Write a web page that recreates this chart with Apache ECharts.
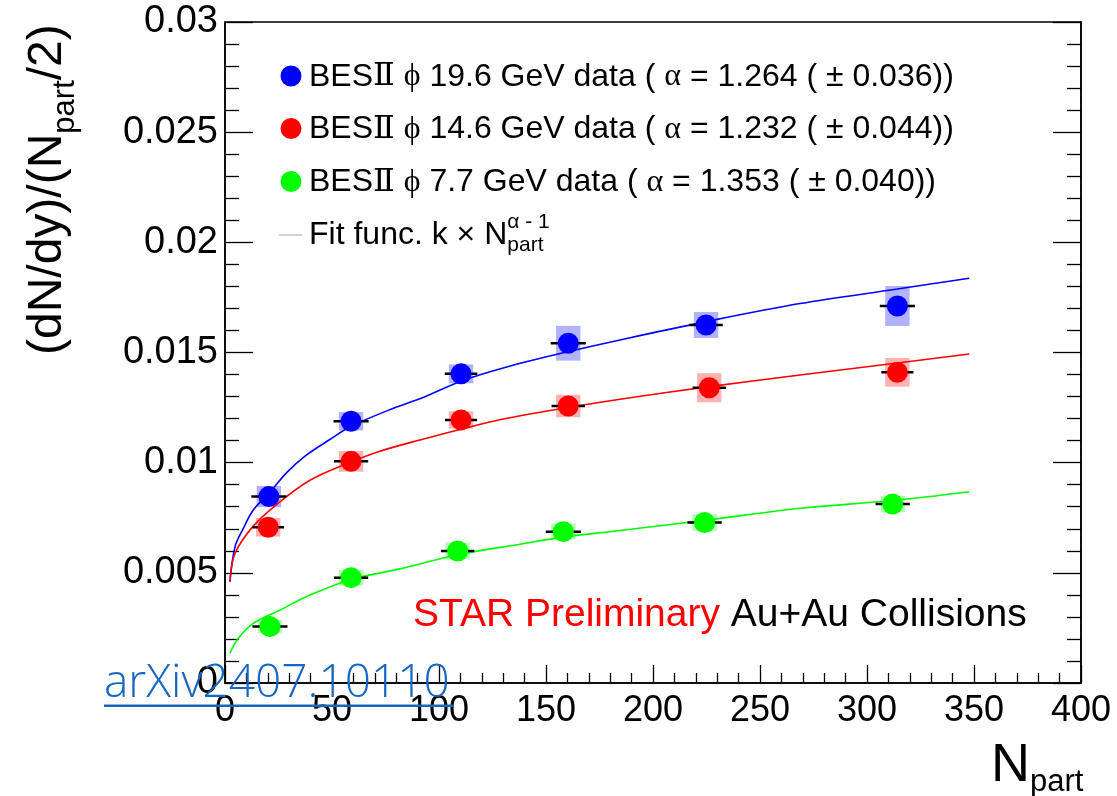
<!DOCTYPE html>
<html>
<head>
<meta charset="utf-8">
<script src="https://cdn.jsdelivr.net/npm/echarts@6/dist/echarts.min.js"></script>
<style>
  html, body { margin: 0; padding: 0; background: #ffffff; }
  #chart { width: 1117px; height: 796px; }
</style>
</head>
<body>
<div id="chart"></div>
<script>
// ---- Axis ticks ----
const xTickLabels = ['0', '50', '100', '150', '200', '250', '300', '350', '400'];
const yTickLabels = ['0', '0.005', '0.01', '0.015', '0.02', '0.025', '0.03'];

// ---- phi yield per participant pair, 19.6 GeV ----
const nPart196 = [20.5, 58.9, 110.3, 160.4, 224.8, 314.2];
const yield196 = [0.00846, 0.01188, 0.01403, 0.01542, 0.01625, 0.01711];
const sys196   = [0.00048, 0.00042, 0.00043, 0.00079, 0.00059, 0.00091];
const nErr196  = [8.2, 8.2, 7.6, 8.2, 7.8, 8.2];

// ---- 14.6 GeV ----
const nPart146 = [20.2, 58.9, 110.3, 160.4, 226.3, 314.2];
const yield146 = [0.00707, 0.01006, 0.01194, 0.01257, 0.0134, 0.0141];
const sys146   = [0.00042, 0.00047, 0.00039, 0.00051, 0.00066, 0.00065];
const nErr146  = [7.4, 8.0, 7.5, 7.8, 7.8, 7.5];

// ---- 7.7 GeV ----
const nPart77 = [21.0, 58.9, 108.7, 158.1, 224.1, 312.0];
const yield77 = [0.00256, 0.00478, 0.00599, 0.00687, 0.00728, 0.00812];
const sys77   = [0.00030, 0.00036, 0.00038, 0.00036, 0.00038, 0.00038];
const nErr77  = [8.2, 8.0, 7.8, 8.2, 8.0, 8.0];

// ---- fitted curves k * Npart^(alpha-1) ----
const fit196N = [2.3, 4.7, 8.6, 13.2, 20.6, 28.8, 37.4, 49, 58.9, 78.7, 91, 110.3, 130, 160.4, 184.6, 224.8, 268.7, 314.2, 347.8];
const fit196  = [0.0046, 0.00619, 0.00702, 0.00785, 0.00861, 0.00955, 0.01030, 0.01105, 0.01165, 0.01247, 0.0129, 0.01370, 0.01430, 0.01504, 0.01557, 0.0164, 0.01722, 0.01788, 0.01837];
const fit146N = [2.3, 4.7, 13.2, 24.1, 39.7, 58.9, 72.4, 91.1, 110.3, 130, 153.4, 184.6, 226.3, 268.7, 314.2, 347.8];
const fit146  = [0.0046, 0.00589, 0.00712, 0.00810, 0.00920, 0.01003, 0.01052, 0.01103, 0.01152, 0.01198, 0.01239, 0.01288, 0.01345, 0.01398, 0.01452, 0.01493];
const fit77N = [2.3, 6.2, 13.2, 25.7, 39.7, 58.9, 81.8, 108.7, 137.9, 158.1, 184.6, 224.1, 268.7, 312, 347.8];
const fit77  = [0.00135, 0.00203, 0.00271, 0.00331, 0.00399, 0.00470, 0.00518, 0.00582, 0.00630, 0.00662, 0.00692, 0.00738, 0.00793, 0.00828, 0.00868];

const BLUE = '#0000ff', RED = '#ff0000', GREEN = '#00ff00';
const BOX_HALF_N = 5.7;          // half width of systematic boxes in Npart units
const SANS = '"Liberation Sans", Arial, Helvetica, sans-serif';
const SERIF = '"Liberation Serif", "DejaVu Serif", "Times New Roman", serif';

const pairs = (xs, ys) => xs.map((x, i) => [x, ys[i]]);

// text measuring for multi-part labels (sub/superscripts, symbols)
const mctx = document.createElement('canvas').getContext('2d');
function textWidth(t, size, family) {
  mctx.font = size + 'px ' + family;
  return mctx.measureText(t).width;
}
// lay out text fragments along a baseline starting at (x, base)
function textRun(x, base, parts, extra) {
  const out = [];
  let cx = x;
  parts.forEach(p => {
    const size = p.s, fam = p.f || SANS;
    const px = p.x !== undefined ? p.x : cx;
    out.push(Object.assign({
      type: 'text',
      x: px,
      y: base + (p.dy || 0) - 0.31 * size,
      silent: true,
      style: {
        text: p.t, fontSize: size, fontFamily: fam, fill: p.c || '#000',
        align: 'left', verticalAlign: 'middle'
      }
    }, extra || {}));
    const w = textWidth(p.t, size, fam);
    if (!p.keep) cx = px + w;
  });
  return out;
}

function boxSeries(xs, ys, sys, color) {
  return {
    type: 'custom', z: 1, silent: true, clip: true,
    encode: { x: 0, y: 1 },
    data: xs.map((x, i) => [x, ys[i], sys[i]]),
    renderItem(params, api) {
      const x = api.value(0), y = api.value(1), e = api.value(2);
      const a = api.coord([x - BOX_HALF_N, y + e]);
      const b = api.coord([x + BOX_HALF_N, y - e]);
      return { type: 'rect', shape: { x: a[0], y: a[1], width: b[0] - a[0], height: b[1] - a[1] },
               style: { fill: color } };
    }
  };
}
function xErrSeries(xs, ys, ex) {
  return {
    type: 'custom', z: 3, silent: true,
    encode: { x: 0, y: 1 },
    data: xs.map((x, i) => [x, ys[i], ex[i]]),
    renderItem(params, api) {
      const x = api.value(0), y = api.value(1), e = api.value(2);
      const a = api.coord([x - e, y]);
      const b = api.coord([x + e, y]);
      return { type: 'line', shape: { x1: a[0], y1: a[1], x2: b[0], y2: b[1] },
               style: { stroke: '#000', lineWidth: 2.5 } };
    }
  };
}
function fitSeries(xs, ys, color) {
  return { type: 'line', z: 2, data: pairs(xs, ys), smooth: 0.35, showSymbol: false, silent: true,
           lineStyle: { color: color, width: 1.6 } };
}
function pointSeries(xs, ys, color) {
  return { type: 'scatter', z: 4, data: pairs(xs, ys), symbol: 'circle', symbolSize: 21, silent: true,
           itemStyle: { color: color, opacity: 1 } };
}

// ---- legend ----
const legendRows = [
  { color: BLUE,  energy: ' 19.6 GeV data ( ', alpha: ' = 1.264 ( ', err: ' 0.036))', base: 87 },
  { color: RED,   energy: ' 14.6 GeV data ( ', alpha: ' = 1.232 ( ', err: ' 0.044))', base: 139.5 },
  { color: GREEN, energy: ' 7.7 GeV data ( ',  alpha: ' = 1.353 ( ', err: ' 0.040))', base: 192.5 }
];
const LS = 32;
let graphics = [];
legendRows.forEach(r => {
  graphics.push({ type: 'circle', shape: { cx: 291, cy: r.base - 11, r: 10.5 }, style: { fill: r.color }, silent: true });
  graphics = graphics.concat(textRun(309, r.base, [
    { t: 'BES', s: LS },
    { t: 'Ⅱ', s: LS, f: SERIF },
    { t: ' ', s: LS },
    { t: 'ϕ', s: LS, f: SERIF },
    { t: r.energy, s: LS },
    { t: 'α', s: LS, f: SERIF },
    { t: r.alpha, s: LS },
    { t: '±', s: LS },
    { t: r.err, s: LS }
  ]));
});
graphics.push({ type: 'line', shape: { x1: 279, y1: 235, x2: 302, y2: 235 },
                style: { stroke: '#c4c4c4', lineWidth: 1.5 }, silent: true });
graphics = graphics.concat(textRun(309, 245, [
  { t: 'Fit func. k ', s: LS },
  { t: '×', s: LS },
  { t: ' N', s: LS },
  { t: 'α - 1', s: 21, dy: -16, keep: true },
  { t: 'part', s: 21, dy: 7 }
]));

// ---- annotation ----
graphics = graphics.concat(textRun(413, 627, [
  { t: 'STAR Preliminary', s: 39, c: RED },
  { t: ' Au+Au Collisions', s: 39 }
]));

// ---- axis titles ----
graphics = graphics.concat(textRun(991, 783, [
  { t: 'N', s: 54 },
  { t: 'part', s: 31, dy: 9 }
]));
graphics.push({
  type: 'group', x: 63, y: 355, rotation: Math.PI / 2, silent: true,
  children: textRun(0, 0, [
    { t: '(dN/dy)/(N', s: 48 },
    { t: 'part', s: 31, dy: 12 },
    { t: '/2)', s: 48 }
  ])
});

// ---- reference link overlay ----
graphics.push({
  type: 'text', x: 104, y: 698 - 0.31 * 46, z: 100, silent: true,
  style: { text: 'arXiv2407.10110', fontSize: 46, fontFamily: '"Open Sans", "Noto Sans", sans-serif',
           fontWeight: 300, fill: '#1767c2', align: 'left', verticalAlign: 'middle' }
});
graphics.push({ type: 'rect', z: 100, silent: true, shape: { x: 104, y: 704.5, width: 349, height: 2.6 },
                style: { fill: '#1767c2' } });

const axisCommon = {
  type: 'value',
  splitLine: { show: false },
  axisLine: { show: true, onZero: false, lineStyle: { color: '#000', width: 1.5 } },
  axisTick: { show: true, inside: true, lineStyle: { color: '#000', width: 1.3 } },
  minorTick: { show: true, splitNumber: 5, lineStyle: { color: '#000', width: 1.3 } },
  minorSplitLine: { show: false }
};

const option = {
  backgroundColor: '#ffffff',
  animation: false,
  grid: { left: 225, right: 36, top: 22, bottom: 113, show: true, borderColor: '#000', borderWidth: 1.5,
          backgroundColor: 'transparent', outerBoundsMode: 'none', containLabel: false },
  xAxis: Object.assign({}, axisCommon, {
    min: 0, max: 400, interval: 50,
    axisTick: Object.assign({}, axisCommon.axisTick, { length: 18 }),
    minorTick: Object.assign({}, axisCommon.minorTick, { length: 10 }),
    axisLabel: { show: true, margin: 10, fontSize: 36, fontFamily: SANS, color: '#000',
                 formatter: (v) => xTickLabels[Math.round(v / 50)] }
  }),
  yAxis: [
    Object.assign({}, axisCommon, {
      min: 0, max: 0.03, interval: 0.005,
      axisTick: Object.assign({}, axisCommon.axisTick, { length: 28 }),
      minorTick: Object.assign({}, axisCommon.minorTick, { length: 14 }),
      axisLabel: { show: true, margin: 7, fontSize: 38, fontFamily: SANS, color: '#000',
                   formatter: (v) => yTickLabels[Math.round(v / 0.005)] }
    }),
    Object.assign({}, axisCommon, {
      position: 'right', min: 0, max: 0.03, interval: 0.005,
      axisTick: Object.assign({}, axisCommon.axisTick, { length: 28 }),
      minorTick: Object.assign({}, axisCommon.minorTick, { length: 14 }),
      axisLabel: { show: false }
    })
  ],
  series: [
    boxSeries(nPart196, yield196, sys196, 'rgba(0,0,255,0.3)'),
    boxSeries(nPart146, yield146, sys146, 'rgba(255,0,0,0.3)'),
    boxSeries(nPart77, yield77, sys77, 'rgba(0,255,0,0.3)'),
    fitSeries(fit196N, fit196, BLUE),
    fitSeries(fit146N, fit146, RED),
    fitSeries(fit77N, fit77, GREEN),
    xErrSeries(nPart196, yield196, nErr196),
    xErrSeries(nPart146, yield146, nErr146),
    xErrSeries(nPart77, yield77, nErr77),
    pointSeries(nPart196, yield196, BLUE),
    pointSeries(nPart146, yield146, RED),
    pointSeries(nPart77, yield77, GREEN)
  ],
  graphic: graphics
};

const chart = echarts.init(document.getElementById('chart'), null, { renderer: 'canvas' });
chart.setOption(option);
</script>
</body>
</html>
